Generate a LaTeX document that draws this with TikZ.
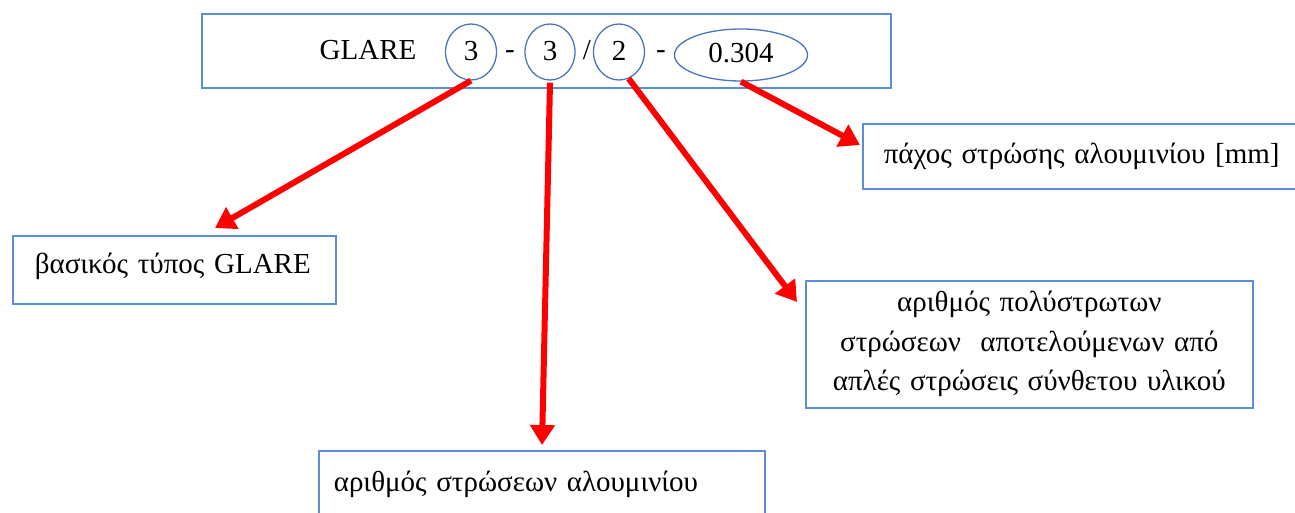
\documentclass[tikz,border=0pt]{standalone}
\usepackage{fontspec}
\setmainfont{Liberation Serif}
\usetikzlibrary{shapes.geometric,arrows.meta}
\definecolor{boxblue}{HTML}{5B8CD6}
\definecolor{ellblue}{HTML}{4A76C0}
\definecolor{arrred}{HTML}{FF0000}
\tikzset{
  box/.style={draw=boxblue, line width=1.6pt, anchor=north west, inner sep=0pt},
  ell/.style={draw=ellblue, line width=1.3pt, ellipse, inner sep=0pt, font=\fontsize{29}{33}\selectfont},
  sym/.style={inner sep=0pt, font=\fontsize{29}{33}\selectfont},
  redarrow/.style={draw=arrred, line width=6pt, -{Triangle[length=20pt,width=24pt]}},
  txt/.style={font=\fontsize{29}{33}\selectfont}
}
\begin{document}
\begin{tikzpicture}[x=1pt,y=-1pt]
\useasboundingbox (0,0) rectangle (1295,513);
\fill[white] (0,0) rectangle (1295,513);
% top box
\node[box, minimum width=689pt, minimum height=74pt] (top) at (201,13) {};
\node[sym] (glare) at (368,50) {GLARE};
\node[ell, minimum width=51pt, minimum height=56pt] (e1) at (471,52) {\raisebox{3pt}{3}};
\node[sym] (d1) at (510,55) {-};
\node[ell, minimum width=50pt, minimum height=56pt] (e2) at (550,52) {\raisebox{3pt}{3}};
\node[sym] (sl) at (587,50) {/};
\node[ell, minimum width=51pt, minimum height=56pt] (e3) at (619,52) {\raisebox{3pt}{2}};
\node[sym] (d2) at (661,55) {-};
\node[ell, minimum width=133pt, minimum height=52pt] (e4) at (741,55) {\raisebox{5pt}{0.304}};
% boxes
\node[box, minimum width=323pt, minimum height=68pt, txt, align=left, text width=323pt] (b1) at (12,235) {\hspace*{22pt}\raisebox{13pt}{βασικός τύπος GLARE}};
\node[box, minimum width=446pt, minimum height=80pt, txt, align=left, text width=446pt] (b2) at (318,450) {\hspace*{15pt}\raisebox{20pt}{αριθμός στρώσεων αλουμινίου}};
\node[box, minimum width=447pt, minimum height=127pt, txt, align=center, text width=447pt, font=\fontsize{29}{39.5}\selectfont] (b3) at (805,280) {αριθμός πολύστρωτων\\στρώσεων\ \ αποτελούμενων από\\απλές στρώσεις σύνθετου υλικού};
\node[box, minimum width=450pt, minimum height=65pt, txt, align=left, text width=450pt] (b4) at (862,123) {\hspace*{21pt}\raisebox{6pt}{πάχος στρώσης αλουμινίου [mm]}};
% arrows
\draw[redarrow] (e1.south) -- ([xshift=203pt,yshift=7pt]b1.north west);
\draw[redarrow] ([yshift=-2pt]e2.south) -- ([xshift=224pt,yshift=5pt]b2.north west);
\draw[redarrow] (e3.-70) -- ([xshift=-8pt,yshift=-22pt]b3.north west);
\draw[redarrow] (e4.south) -- ([xshift=-2pt,yshift=-22pt]b4.north west);
\end{tikzpicture}
\end{document}
